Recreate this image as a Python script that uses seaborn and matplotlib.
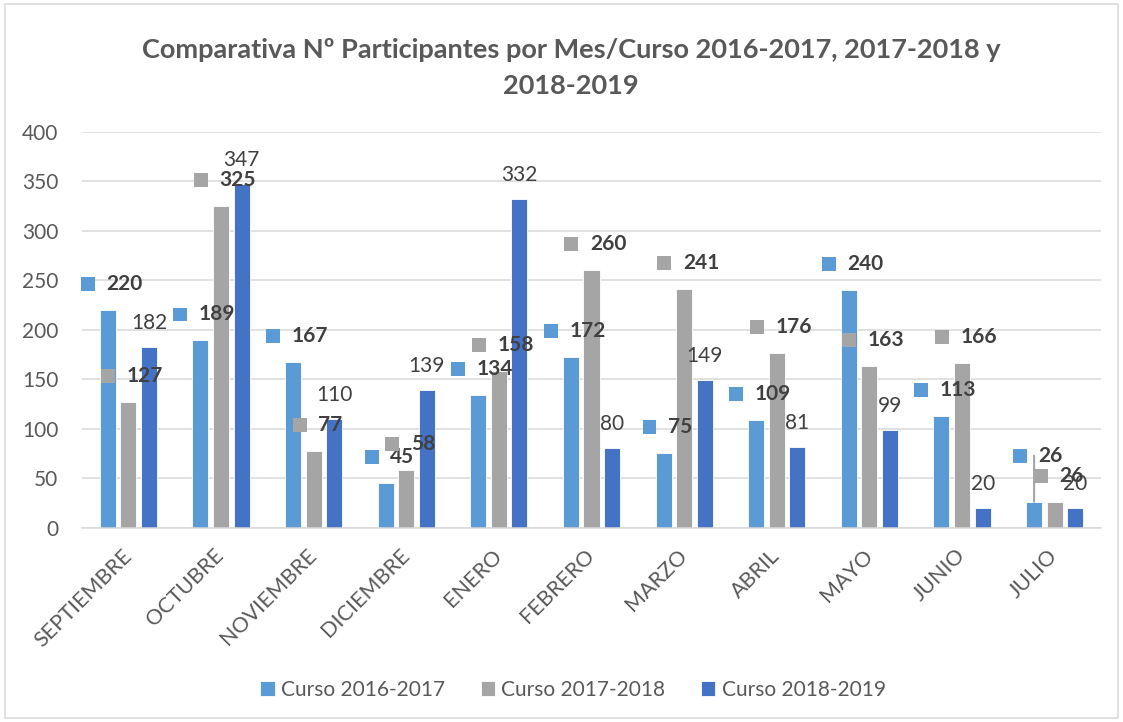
import matplotlib
matplotlib.use("Agg")
import matplotlib.pyplot as plt
from matplotlib.patches import Rectangle
from matplotlib.offsetbox import AnnotationBbox, DrawingArea, TextArea, HPacker
import pandas as pd
import seaborn as sns

# chart data
meses = ["SEPTIEMBRE", "OCTUBRE", "NOVIEMBRE", "DICIEMBRE", "ENERO", "FEBRERO",
         "MARZO", "ABRIL", "MAYO", "JUNIO", "JULIO"]
cursos = ["Curso 2016-2017", "Curso 2017-2018", "Curso 2018-2019"]
curso_2016_2017 = [220, 189, 167, 45, 134, 172, 75, 109, 240, 113, 26]
curso_2017_2018 = [127, 325, 77, 58, 158, 260, 241, 176, 163, 166, 26]
curso_2018_2019 = [182, 347, 110, 139, 332, 80, 149, 81, 99, 20, 20]
titulo = "Comparativa Nº Participantes por Mes/Curso 2016-2017, 2017-2018 y\n2018-2019"

colores = ["#5B9BD5", "#A5A5A5", "#4472C4"]
# extra lift (pixels) of the first series labels, one label was dragged up in the original
lift_2016 = [0, 0, 0, 0, 0, 0, 0, 0, 0, 0, 20]

df = pd.DataFrame({
    "mes": meses * 3,
    "curso": [cursos[0]] * 11 + [cursos[1]] * 11 + [cursos[2]] * 11,
    "valor": curso_2016_2017 + curso_2017_2018 + curso_2018_2019,
})

sns.set_theme(style="white")
plt.rcParams["font.family"] = ["Lato", "DejaVu Sans"]
gris = "#595959"
oscuro = "#404040"

fig = plt.figure(figsize=(11.23, 7.22), dpi=100)
ax = fig.add_axes([82 / 1123, 1 - 527.5 / 722, 1019 / 1123, 395.8 / 722])

sns.barplot(data=df, x="mes", y="valor", hue="curso", palette=colores,
            width=0.667, gap=0.22, ax=ax, edgecolor="white", linewidth=0.6,
            saturation=1, zorder=2)

ax.set_ylim(0, 400)
ax.set_yticks(range(0, 401, 50))
ax.yaxis.grid(True, color="#D9D9D9", linewidth=1.1, zorder=0)
ax.set_axisbelow(True)
for s in ["top", "right", "left"]:
    ax.spines[s].set_visible(False)
ax.spines["bottom"].set_color("#D9D9D9")
ax.spines["bottom"].set_linewidth(1.1)
ax.set_xlabel("")
ax.set_ylabel("")
ax.tick_params(axis="both", length=0, labelsize=15, labelcolor=gris)
ax.tick_params(axis="y", pad=17)
ax.tick_params(axis="x", pad=18, labelsize=15.5)
for lab in ax.get_xticklabels():
    lab.set_rotation(45)
    lab.set_ha("right")
    lab.set_va("center")
    lab.set_rotation_mode("anchor")


def key_label(x, y, texto, color, lift):
    key = DrawingArea(10, 10, 0, 0)
    key.add_artist(Rectangle((0, 0), 10, 10, fc=color, ec="none"))
    txt = TextArea(texto, textprops=dict(fontsize=15, fontweight="bold", color=oscuro))
    box = HPacker(children=[key, txt], align="center", pad=0, sep=8.5)
    ab = AnnotationBbox(box, (x, y), xybox=(4, 26 + lift), boxcoords="offset pixels",
                        frameon=False, box_alignment=(0.5, 0.5), pad=0, zorder=6)
    ax.add_artist(ab)


conts = ax.containers
# series 1 and 2: bold labels with legend key
for ci, cont in enumerate(conts[:2]):
    for i, p in enumerate(cont.patches):
        x = p.get_x() + p.get_width() / 2
        v = p.get_height()
        lift = lift_2016[i] if ci == 0 else 0
        if lift:
            ax.annotate("", xy=(x, v), xytext=(0, 26 + lift), textcoords="offset pixels",
                        arrowprops=dict(arrowstyle="-", color="#A6A6A6", lw=1.5,
                                        shrinkA=0, shrinkB=0), zorder=4)
        key_label(x, v, str(int(v)), colores[ci], lift)

# series 3: plain labels above the bars
for p in conts[2].patches:
    x = p.get_x() + p.get_width() / 2
    v = p.get_height()
    ax.annotate(str(int(v)), xy=(x, v), xytext=(0, 24), textcoords="offset pixels",
                ha="center", va="center", fontsize=15, color=oscuro, zorder=6)

sns.move_legend(ax, "center", bbox_to_anchor=(573 / 1123, 1 - 690 / 722),
                bbox_transform=fig.transFigure, ncol=3, frameon=False, title=None,
                fontsize=15, handlelength=0.7, handleheight=0.7,
                handletextpad=0.3, columnspacing=1.7)
for t in ax.get_legend().get_texts():
    t.set_color(gris)

fig.text(571 / 1123, 1 - 68 / 722, titulo, ha="center", va="center", fontsize=19.5,
         fontweight="bold", color=gris, linespacing=1.6)

# chart border
fig.patches.append(Rectangle((5 / 1123, 4 / 722), 1113 / 1123, 714 / 722,
                             transform=fig.transFigure, fill=False,
                             edgecolor="#D9D9D9", linewidth=1.1))

fig.savefig("out.png", dpi=100)
